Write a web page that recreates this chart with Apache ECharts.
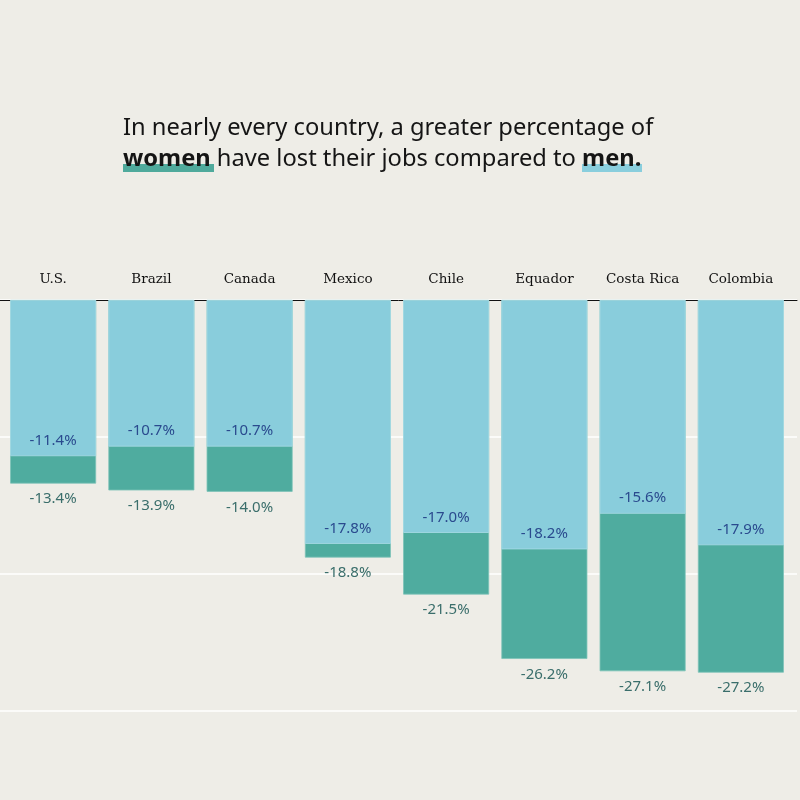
<!DOCTYPE html>
<html>
<head>
<meta charset="utf-8">
<script src="https://cdn.jsdelivr.net/npm/echarts@6/dist/echarts.min.js"></script>
<style>
  html, body { margin: 0; padding: 0; background: #EEEDE7; }
  #chart { width: 800px; height: 800px; }
</style>
</head>
<body>
<div id="chart"></div>
<script>
// job losses by country (percent change)
const countries = ['U.S.', 'Brazil', 'Canada', 'Mexico', 'Chile', 'Equador', 'Costa Rica', 'Colombia']
const women = [-13.4, -13.9, -14.0, -18.8, -21.5, -26.2, -27.1, -27.2]
const men = [-11.4, -10.7, -10.7, -17.8, -17.0, -18.2, -15.6, -17.9]

const pct = p => p.value.toFixed(1) + '%'

const option = {
    backgroundColor: '#EEEDE7',
    animation: false,
    title: {
        text: 'In nearly every country, a greater percentage of\n{b|women} have lost their jobs compared to {b|men.}',
        left: 123,
        top: 113,
        padding: 0,
        textStyle: {
            fontFamily: 'Noto Sans',
            fontSize: 23.7,
            fontWeight: 'normal',
            color: '#151515',
            lineHeight: 31,
            rich: {
                b: { fontFamily: 'Noto Sans', fontSize: 23.7, fontWeight: 'bold', color: '#151515', lineHeight: 31 }
            }
        }
    },
    graphic: [
        // underlines acting as the legend
        { type: 'rect', z: 0, shape: { x: 123, y: 164, width: 91, height: 8 }, style: { fill: '#4FAA9C' } },
        { type: 'rect', z: 0, shape: { x: 582, y: 164, width: 60, height: 8 }, style: { fill: '#89CEDD' } }
    ],
    grid: [
        { left: 4, right: 10, top: 300, bottom: 89 },
        // full width grid only for the rules
        { left: 0, right: 3, top: 300, bottom: 89 }
    ],
    xAxis: [
        {
            type: 'category',
            gridIndex: 0,
            position: 'top',
            data: countries,
            axisLine: { show: false },
            axisTick: { show: false },
            axisLabel: {
                interval: 0,
                margin: 14,
                fontFamily: 'DejaVu Serif',
                fontSize: 13.5,
                color: '#111'
            }
        },
        {
            type: 'value',
            gridIndex: 1,
            position: 'top',
            min: 0,
            max: 1,
            axisLine: { show: true, onZero: false, lineStyle: { color: '#111', width: 1 } },
            axisTick: { show: false },
            axisLabel: { show: false },
            splitLine: { show: false }
        }
    ],
    yAxis: [
        {
            type: 'value',
            gridIndex: 0,
            min: -30,
            max: 0,
            interval: 10,
            axisLabel: { show: false },
            axisLine: { show: false },
            axisTick: { show: false },
            splitLine: { show: false }
        },
        {
            type: 'value',
            gridIndex: 1,
            min: -30,
            max: 0,
            interval: 10,
            axisLabel: { show: false },
            axisLine: { show: false },
            axisTick: { show: false },
            splitLine: { show: true, lineStyle: { color: '#FFFFFF', width: 1.5 } }
        }
    ],
    series: [
        {
            name: 'Women',
            type: 'bar',
            xAxisIndex: 0,
            yAxisIndex: 0,
            data: women,
            barWidth: 86,
            barGap: '-100%',
            itemStyle: { color: '#4FAC9F', borderColor: '#7CC3B8', borderWidth: 0.8 },
            label: {
                show: true,
                position: 'bottom',
                distance: 8,
                formatter: pct,
                fontFamily: 'Noto Sans',
                fontSize: 15,
                color: '#3A6E6B'
            }
        },
        {
            name: 'Men',
            type: 'bar',
            xAxisIndex: 0,
            yAxisIndex: 0,
            data: men,
            barWidth: 86,
            barGap: '-100%',
            itemStyle: { color: '#89CDDC', borderColor: '#A9DCE7', borderWidth: 0.8 },
            label: {
                show: true,
                position: 'insideBottom',
                distance: 8,
                formatter: pct,
                fontFamily: 'Noto Sans',
                fontSize: 15,
                color: '#2A4A8E'
            }
        }
    ]
}

const myChart = echarts.init(document.getElementById('chart'))
myChart.setOption(option)
</script>
</body>
</html>
